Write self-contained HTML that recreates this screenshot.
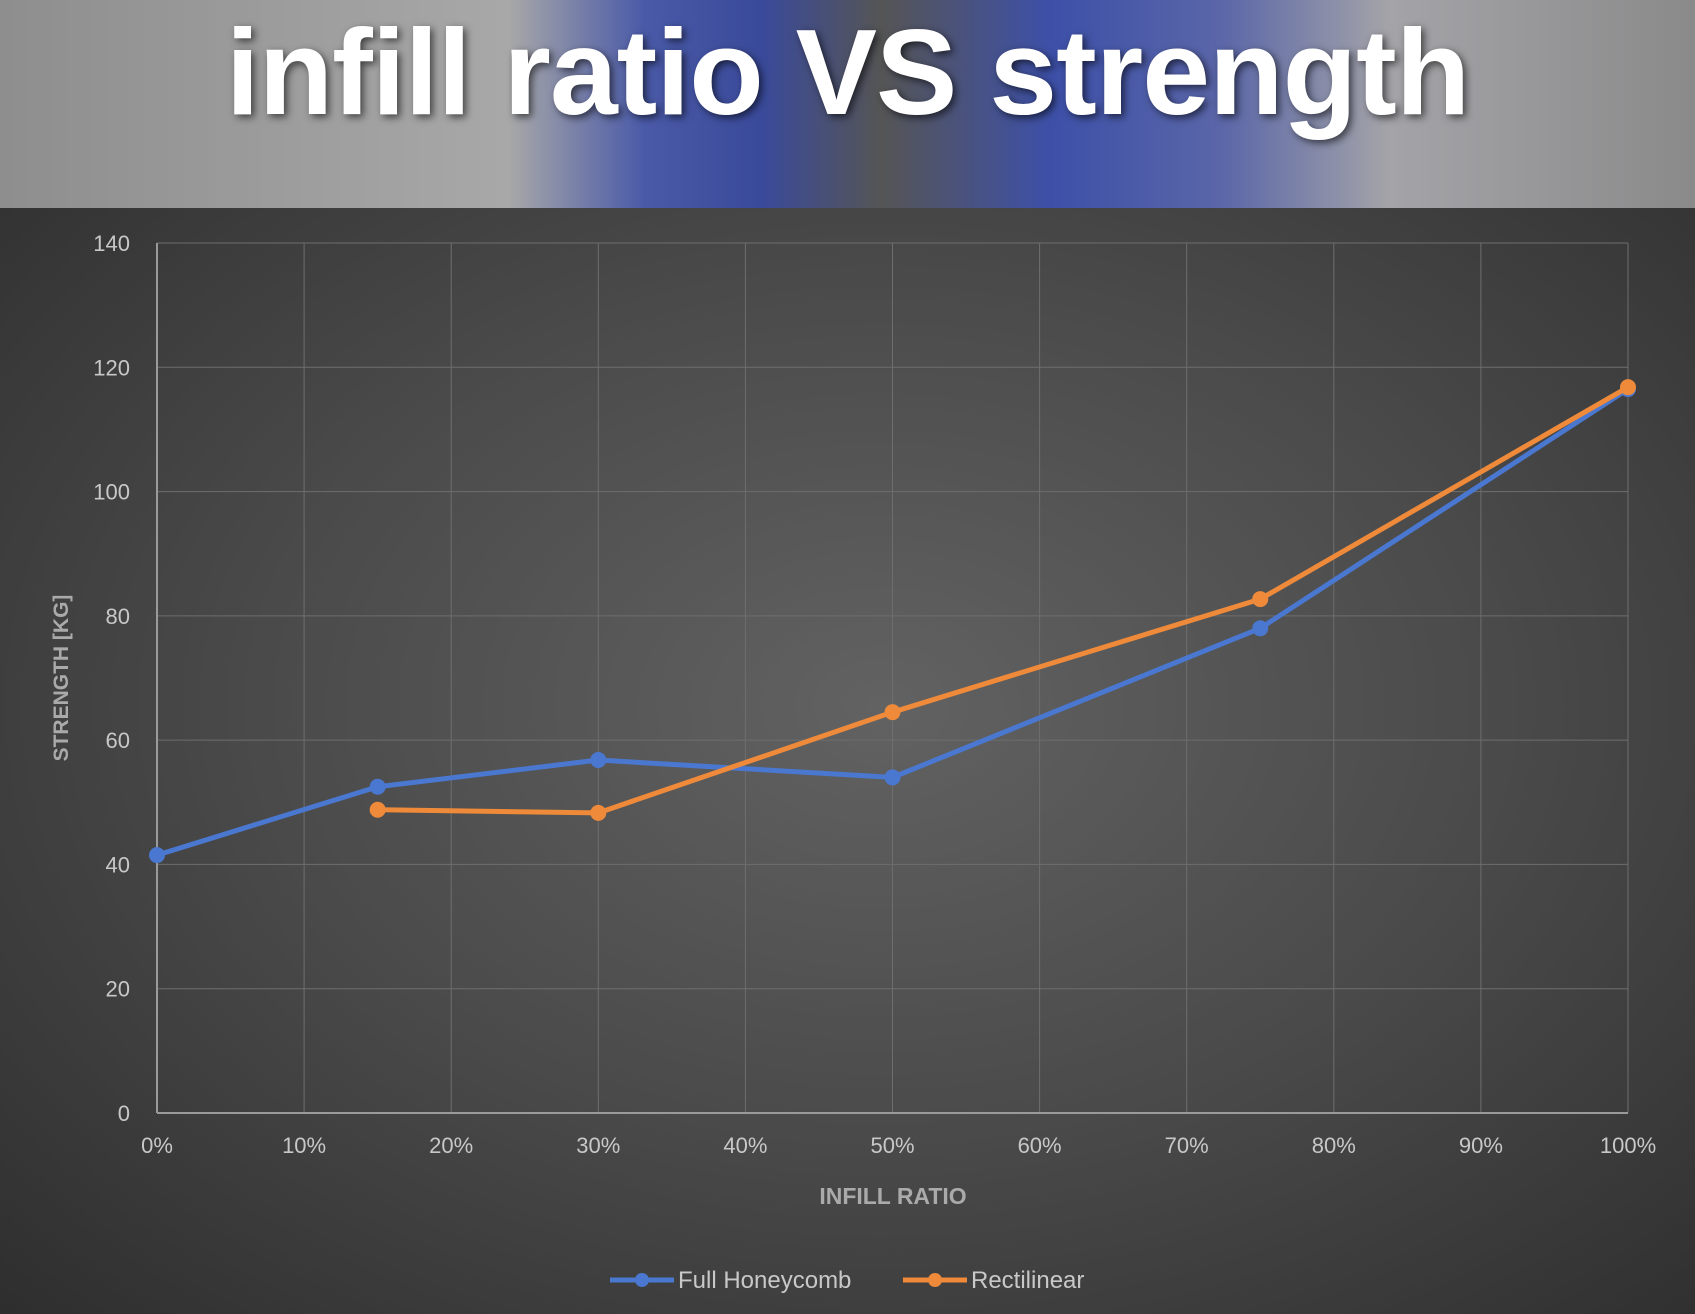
<!DOCTYPE html>
<html><head><meta charset="utf-8"><style>
body{margin:0;width:1695px;height:1314px;overflow:hidden;font-family:"Liberation Sans",sans-serif}
#hdr{position:absolute;left:0;top:0;width:1695px;height:208px;background:linear-gradient(90deg,#8e8e8e 0%,#a8a8a8 30%,#4a5aa8 38%,#3a4a9a 45%,#555 52%,#3d50a8 62%,#5a66a8 72%,#a4a4a8 82%,#8a8a8a 100%)}
#ttl{position:absolute;left:0;top:-18px;width:1695px;text-align:center;font-size:122px;font-weight:bold;color:#fff;line-height:180px;letter-spacing:-1px;text-shadow:3px 3px 8px rgba(0,0,0,.6)}
#chart{position:absolute;left:0;top:208px;width:1695px;height:1106px;background:radial-gradient(ellipse at 52% 45%,#626262 0%,#4a4a4a 50%,#2e2e2e 100%)}
</style></head><body>
<div id="hdr"><div id="ttl">infill ratio VS strength</div></div>
<div id="chart"></div>
<svg id="svg" width="1695" height="1314" style="position:absolute;left:0;top:0"></svg>
<script>
const xTicks=[0,10,20,30,40,50,60,70,80,90,100];
const yTicks=[0,20,40,60,80,100,120,140];
const honeyX=[0,15,30,50,75,100];
const honeyY=[41.5,52.5,56.8,54,78,116.5];
const rectX=[15,30,50,75,100];
const rectY=[48.8,48.3,64.5,82.7,116.8];
const X0=157,X1=1628,Y0=1113,Y1=243;
const sx=v=>X0+(X1-X0)*v/100, sy=v=>Y0-(Y0-Y1)*v/140;
const svg=document.getElementById('svg');const NS='http://www.w3.org/2000/svg';
function mk(t,a,txt){const e=document.createElementNS(NS,t);for(const k in a)e.setAttribute(k,a[k]);if(txt!==undefined)e.textContent=txt;svg.appendChild(e);return e;}
xTicks.forEach(t=>{const l=mk('line',{x1:sx(t),x2:sx(t),y1:Y1,y2:Y0,stroke:'#6e6e6e','stroke-width':1});

const e=mk('text',{x:sx(t),y:Y0+40,fill:'#c8c8c8','font-size':22,'text-anchor':'middle'},t+'%');
});
yTicks.forEach(t=>{const l=mk('line',{x1:X0,x2:X1,y1:sy(t),y2:sy(t),stroke:t===0?'#9a9a9a':'#6e6e6e','stroke-width':t===0?2:1});

const e=mk('text',{x:130,y:sy(t)+8,fill:'#c8c8c8','font-size':22,'text-anchor':'end'},t);
});
let a=mk('line',{x1:X0,x2:X0,y1:Y1,y2:Y0,stroke:'#9a9a9a','stroke-width':2});

let xt=mk('text',{x:893,y:1204,fill:'#aaa','font-size':23,'font-weight':'bold','text-anchor':'middle'},'INFILL RATIO');

let yt=mk('text',{x:68,y:678,fill:'#aaa','font-size':21,'font-weight':'bold','text-anchor':'middle',transform:'rotate(-90 68 678)'},'STRENGTH [KG]');

function series(xs,ys,c,n){const p=mk('polyline',{points:xs.map((x,i)=>sx(x)+','+sy(ys[i])).join(' '),fill:'none',stroke:c,'stroke-width':5,'stroke-linejoin':'round'});

xs.forEach((x,i)=>{const m=mk('circle',{cx:sx(x),cy:sy(ys[i]),r:8,fill:c});
});}
series(honeyX,honeyY,'#4a78d0','full-honeycomb');
series(rectX,rectY,'#ee8a3a','rectilinear');
[[610,'#4a78d0','Full Honeycomb','legend-full-honeycomb'],[903,'#ee8a3a','Rectilinear','legend-rectilinear']].forEach(([x,c,t,n])=>{
const g=mk('line',{x1:x,x2:x+64,y1:1280,y2:1280,stroke:c,'stroke-width':5});

const d=mk('circle',{cx:x+32,cy:1280,r:7,fill:c});

const e=mk('text',{x:x+68,y:1288,fill:'#c8c8c8','font-size':24},t);
});
</script>
</body></html>
